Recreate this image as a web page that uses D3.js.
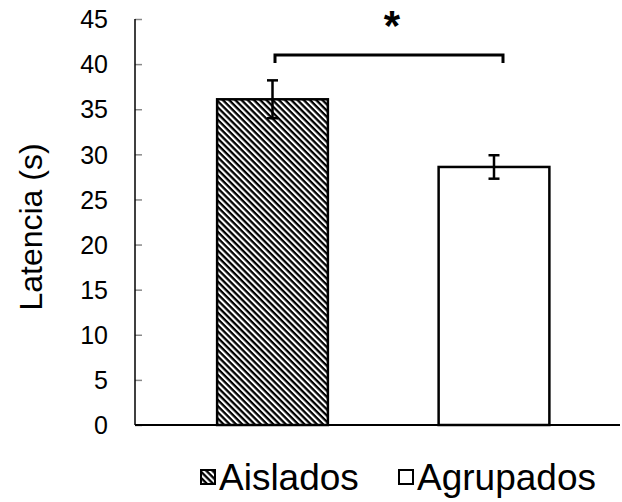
<!DOCTYPE html>
<html lang="es">
<head>
<meta charset="UTF-8">
<title>Latencia</title>
<script src="https://d3js.org/d3.v7.min.js"></script>
<style>
    body { margin: 0; background: #fff; font-family: "Liberation Sans", Arial, sans-serif; }
    svg text { font-family: "Liberation Sans", Arial, sans-serif; }
</style>
</head>
<body>
<div id="chart"></div>
<script>
// data
const groups = ["Aislados", "Agrupados"];
const means = [36.1, 28.6];
const errors = [2.1, 1.3];
const yTicks = [0, 5, 10, 15, 20, 25, 30, 35, 40, 45];
const yLabel = "Latencia (s)";
const sigMark = "*";

const W = 622, H = 502;

const svg = d3.select("#chart").append("svg")
    .attr("width", W)
    .attr("height", H);

// diagonal hatch for the first group
const defs = svg.append("defs");
defs.append("pattern")
    .attr("id", "hatch")
    .attr("patternUnits", "userSpaceOnUse")
    .attr("width", 4.4)
    .attr("height", 4.4)
    .attr("patternTransform", "rotate(45)")
    .call(p => {
        p.append("rect").attr("width", 4.4).attr("height", 4.4).attr("fill", "#fff");
        p.append("rect").attr("width", 4.4).attr("height", 2.3).attr("fill", "#000");
    });

const fills = ["url(#hatch)", "#fff"];

const x = d3.scaleBand()
    .domain(groups)
    .range([161.75, 604.75])
    .paddingInner(0.5)
    .paddingOuter(0.25);

const y = d3.scaleLinear()
    .domain([0, 45])
    .range([425, 19]);

const axisX0 = 135, axisX1 = 620;

// y axis
const yAxis = svg.append("g")
    .attr("transform", `translate(${axisX0},0)`)
    .call(d3.axisRight(y).tickValues(yTicks).tickSize(7).tickFormat(d3.format("d")));
yAxis.select(".domain").remove();
yAxis.selectAll(".tick line").attr("stroke", "#888").attr("stroke-width", 1.5);
yAxis.selectAll(".tick text")
    .attr("x", -27)
    .attr("dy", "0.35em")
    .attr("text-anchor", "end")
    .style("font-size", "25px")
    .attr("fill", "#000");
svg.append("line")
    .attr("x1", axisX0).attr("x2", axisX0)
    .attr("y1", y(45)).attr("y2", y(0))
    .attr("stroke", "#000").attr("stroke-width", 1.5);

// bars
svg.selectAll("rect.bar")
    .data(groups)
    .join("rect")
    .attr("class", "bar")
    .attr("x", d => x(d))
    .attr("y", (d, i) => y(means[i]))
    .attr("width", x.bandwidth())
    .attr("height", (d, i) => y(0) - y(means[i]))
    .attr("fill", (d, i) => fills[i])
    .attr("stroke", "#000")
    .attr("stroke-width", 2.5);

// x axis line
svg.append("line")
    .attr("x1", axisX0).attr("x2", axisX1)
    .attr("y1", y(0)).attr("y2", y(0))
    .attr("stroke", "#000").attr("stroke-width", 2);

// error bars
const capW = 11;
const eb = svg.selectAll("g.err")
    .data(groups)
    .join("g")
    .attr("class", "err")
    .attr("stroke", "#000")
    .attr("stroke-width", 2.5);
eb.append("line")
    .attr("x1", d => x(d) + x.bandwidth() / 2)
    .attr("x2", d => x(d) + x.bandwidth() / 2)
    .attr("y1", (d, i) => y(means[i] + errors[i]))
    .attr("y2", (d, i) => y(means[i] - errors[i]));
eb.append("line")
    .attr("x1", d => x(d) + x.bandwidth() / 2 - capW / 2)
    .attr("x2", d => x(d) + x.bandwidth() / 2 + capW / 2)
    .attr("y1", (d, i) => y(means[i] + errors[i]))
    .attr("y2", (d, i) => y(means[i] + errors[i]));
eb.append("line")
    .attr("x1", d => x(d) + x.bandwidth() / 2 - capW / 2)
    .attr("x2", d => x(d) + x.bandwidth() / 2 + capW / 2)
    .attr("y1", (d, i) => y(means[i] - errors[i]))
    .attr("y2", (d, i) => y(means[i] - errors[i]));

// significance bracket
const bx0 = 275, bx1 = 503, by = 55;
svg.append("path")
    .attr("d", `M${bx0},${by + 8}V${by}H${bx1}V${by + 8}`)
    .attr("fill", "none")
    .attr("stroke", "#000")
    .attr("stroke-width", 3);
svg.append("text")
    .attr("x", (bx0 + bx1) / 2 + 3)
    .attr("y", 40)
    .attr("text-anchor", "middle")
    .style("font-size", "42px")
    .style("font-weight", "bold")
    .text(sigMark);

// y label
svg.append("text")
    .attr("transform", `translate(42,227) rotate(-90)`)
    .attr("text-anchor", "middle")
    .style("font-size", "32px")
    .text(yLabel);

// legend
const legX = [201, 399];
const lg = svg.selectAll("g.leg")
    .data(groups)
    .join("g")
    .attr("class", "leg")
    .attr("transform", (d, i) => `translate(${legX[i]},470)`);
lg.append("rect")
    .attr("width", 14)
    .attr("height", 14)
    .attr("fill", (d, i) => fills[i])
    .attr("stroke", "#000")
    .attr("stroke-width", 2);
lg.append("text")
    .attr("x", 18)
    .attr("y", 20)
    .style("font-size", "37px")
    .text(d => d);
</script>
</body>
</html>
